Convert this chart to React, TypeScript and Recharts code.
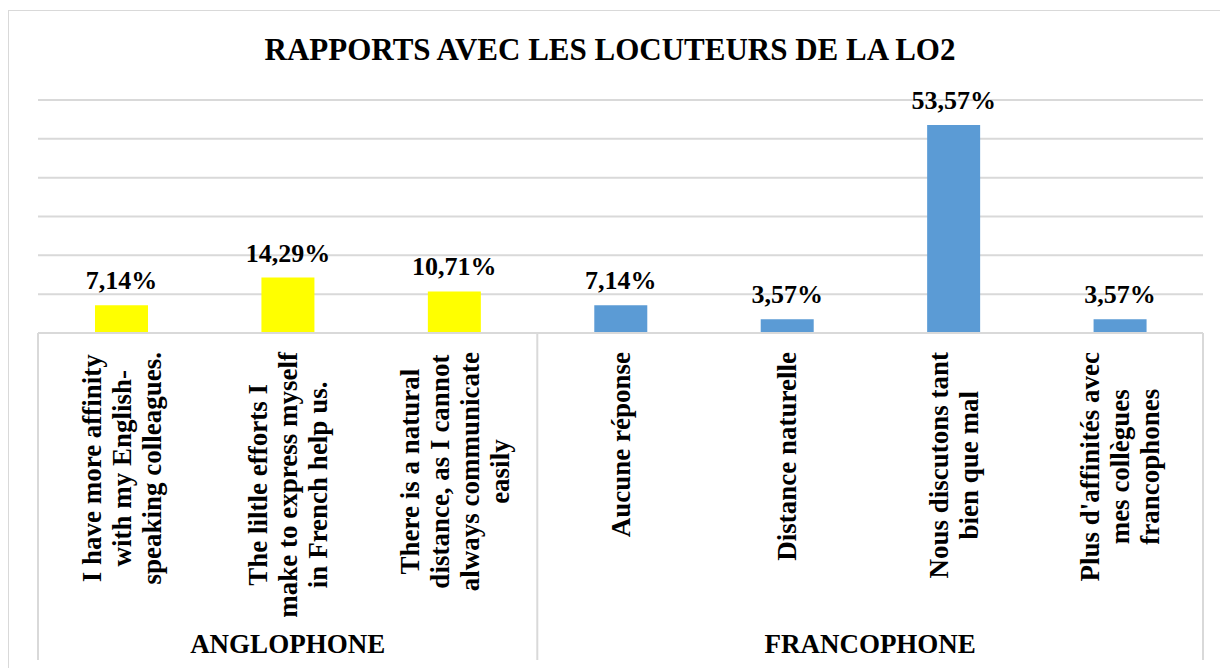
import React from 'react';
import { BarChart, Bar, XAxis, YAxis, CartesianGrid, Cell, LabelList } from 'recharts';

const labelLines: string[][] = [
  ['I have more affinity', 'with my English-', 'speaking colleagues.'],
  ['The liltle efforts I', 'make to express myself', 'in French help us.'],
  ['There is a natural', 'distance, as I cannot', 'always communicate', 'easily'],
  ['Aucune réponse'],
  ['Distance naturelle'],
  ['Nous discutons tant', 'bien que mal'],
  ["Plus d'affinités avec", 'mes collègues', 'francophones'],
];
const values = [7.14, 14.29, 10.71, 7.14, 3.57, 53.57, 3.57];
const groups = ['ANGLOPHONE', 'ANGLOPHONE', 'ANGLOPHONE', 'FRANCOPHONE', 'FRANCOPHONE', 'FRANCOPHONE', 'FRANCOPHONE'];
const groupColors: Record<string, string> = { ANGLOPHONE: '#FFFF00', FRANCOPHONE: '#5B9BD5' };
const yTicks = [0, 10, 20, 30, 40, 50, 60];

const W = 1220;
const H = 668;
const MARGIN = { top: 100, right: 17, left: 38, bottom: 8 };
const AXIS_H = 327;
const PLOT_BOTTOM = H - MARGIN.bottom - AXIS_H;
const BAND = (W - MARGIN.left - MARGIN.right) / values.length;

const SERIF = '"Liberation Serif", "Times New Roman", serif';
const LABEL_SIZE = 27;
const LINE_PITCH = 30;
const GRID = '#d9d9d9';

const data = values.map((v, i) => ({ name: labelLines[i].join(' '), value: v, group: groups[i] }));

let ctx: CanvasRenderingContext2D | null = null;
const measure = (s: string) => {
  if (!ctx) ctx = document.createElement('canvas').getContext('2d');
  if (!ctx) return s.length * LABEL_SIZE * 0.5;
  ctx.font = `bold ${LABEL_SIZE}px ${SERIF}`;
  return ctx.measureText(s).width;
};

const fmt = (v: any) => `${Number(v).toFixed(2).replace('.', ',')}%`;

const CategoryTick = (props: any) => {
  const { x, payload } = props;
  const i = payload.index ?? props.index;
  const lines = labelLines[i];
  const maxW = Math.max(...lines.map(measure));
  const cy = PLOT_BOTTOM + 19 + maxW / 2;
  const n = lines.length;
  const grp = groups[i];
  const isFirst = i === 0 || groups[i - 1] !== grp;
  const isLast = i === groups.length - 1;
  const count = groups.filter((g) => g === grp).length;
  const left = x - BAND / 2;
  return (
    <g>
      {lines.map((line, k) => {
        const lx = x + (k - (n - 1) / 2) * LINE_PITCH;
        return (
          <text
            key={k}
            x={lx}
            y={cy}
            dy="0.35em"
            transform={`rotate(-90 ${lx} ${cy})`}
            textAnchor="middle"
            fontFamily={SERIF}
            fontWeight="bold"
            fontSize={LABEL_SIZE}
            fill="#000"
          >
            {line}
          </text>
        );
      })}
      {isFirst && (
        <>
          <line x1={left} x2={left} y1={PLOT_BOTTOM} y2={H - MARGIN.bottom} stroke={GRID} strokeWidth={2} />
          <text
            x={left + (count * BAND) / 2}
            y={653}
            textAnchor="middle"
            fontFamily={SERIF}
            fontWeight="bold"
            fontSize={27}
            fill="#000"
          >
            {grp}
          </text>
        </>
      )}
      {isLast && (
        <line x1={x + BAND / 2} x2={x + BAND / 2} y1={PLOT_BOTTOM} y2={H - MARGIN.bottom} stroke={GRID} strokeWidth={2} />
      )}
    </g>
  );
};

export default function App() {
  return (
    <div style={{ position: 'absolute', left: 0, top: 0, width: W, height: H, background: '#fff', overflow: 'hidden' }}>
      <div
        style={{
          position: 'absolute',
          left: 8,
          top: 10,
          width: W + 100,
          height: H + 100,
          border: `1px solid ${GRID}`,
        }}
      />
      <div
        style={{
          position: 'absolute',
          left: 0,
          top: 34,
          width: W,
          textAlign: 'center',
          fontFamily: SERIF,
          fontWeight: 'bold',
          fontSize: 31,
          lineHeight: '31px',
          color: '#000',
        }}
      >
        RAPPORTS AVEC LES LOCUTEURS DE LA LO2
      </div>
      <div style={{ position: 'absolute', left: 0, top: 0 }}>
        <BarChart width={W} height={H} data={data} margin={MARGIN}>
          <CartesianGrid vertical={false} stroke={GRID} strokeWidth={2} />
          <XAxis
            dataKey="name"
            interval={0}
            height={AXIS_H}
            tickLine={false}
            axisLine={{ stroke: GRID, strokeWidth: 2 }}
            tick={(p: any) => <CategoryTick {...p} />}
          />
          <YAxis hide domain={[0, 60]} ticks={yTicks} />
          <Bar dataKey="value" barSize={53} isAnimationActive={false}>
            {data.map((d, i) => (
              <Cell key={i} fill={groupColors[d.group]} />
            ))}
            <LabelList
              dataKey="value"
              position="top"
              offset={16}
              formatter={fmt}
              fontFamily={SERIF}
              fontWeight="bold"
              fontSize={26}
              fill="#000"
            />
          </Bar>
        </BarChart>
      </div>
    </div>
  );
}
